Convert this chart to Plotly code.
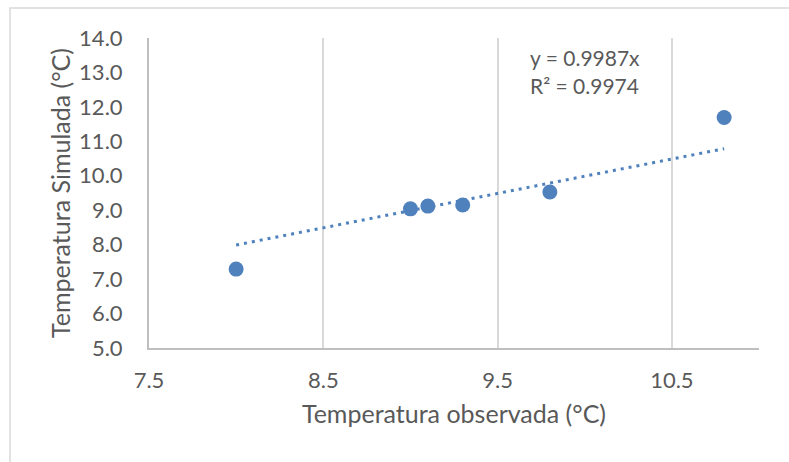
import plotly.graph_objects as go

# Data
obs = [8.0, 9.0, 9.1, 9.3, 9.8, 10.8]
sim = [7.29, 9.04, 9.12, 9.15, 9.53, 11.69]
slope = 0.9987
r2 = 0.9974
x_ticks = [7.5, 8.5, 9.5, 10.5]
y_ticks = [5, 6, 7, 8, 9, 10, 11, 12, 13, 14]

FONT = "Lato"
TXT = "#595959"
BLUE = "#4F81BD"

trend_x = [min(obs), max(obs)]
trend_y = [slope * v for v in trend_x]

fig = go.Figure()
fig.add_trace(go.Scatter(
    x=trend_x, y=trend_y, mode="lines",
    line=dict(color=BLUE, width=3, dash="3px,5px"),
    hoverinfo="skip", showlegend=False))
fig.add_trace(go.Scatter(
    x=obs, y=sim, mode="markers",
    marker=dict(color=BLUE, size=15, line=dict(width=0)),
    showlegend=False))

# plot area geometry in pixels (for border shape)
L, R, T, B = 149, 30, 38, 114
W, H = 789, 462
pw, ph = W - L - R, H - T - B

def px(xp):
    return (xp - L) / pw

def py(yp):
    return (H - B - yp) / ph

fig.add_shape(type="rect", xref="paper", yref="paper",
              x0=px(10), x1=px(W + 20), y0=py(H + 20), y1=py(8),
              line=dict(color="#D9D9D9", width=1.5), layer="below")

fig.add_annotation(x=px(528), y=py(57), xref="paper", yref="paper",
                   text=f"y = {slope}x", showarrow=False, xanchor="left", yanchor="middle",
                   font=dict(family=FONT, size=21, color=TXT))
fig.add_annotation(x=px(528), y=py(85), xref="paper", yref="paper",
                   text=f"R² = {r2}", showarrow=False, xanchor="left", yanchor="middle",
                   font=dict(family=FONT, size=21, color=TXT))

fig.update_layout(
    width=W, height=H,
    margin=dict(l=L, r=R, t=T, b=B),
    paper_bgcolor="white", plot_bgcolor="white",
    font=dict(family=FONT, color=TXT),
    xaxis=dict(
        range=[7.5, 11.0], tickmode="array", tickvals=x_ticks,
        ticktext=[f"{v:.1f}" for v in x_ticks],
        showgrid=True, gridcolor="#D9D9D9", gridwidth=2,
        showline=True, linecolor="#BFBFBF", linewidth=2,
        zeroline=False, ticks="", ticklabelstandoff=12,
        tickfont=dict(family=FONT, size=22, color=TXT),
        title=dict(text="Temperatura observada (°C)", standoff=13,
                   font=dict(family=FONT, size=25, color=TXT)),
    ),
    yaxis=dict(
        range=[5, 14], tickmode="array", tickvals=y_ticks,
        ticktext=[f"{v:.1f}" for v in y_ticks],
        showgrid=False, showline=True, linecolor="#BFBFBF", linewidth=2,
        zeroline=False, ticks="", ticklabelstandoff=20,
        tickfont=dict(family=FONT, size=22, color=TXT),
        title=dict(text="Temperatura Simulada (°C)", standoff=1,
                   font=dict(family=FONT, size=25, color=TXT)),
    ),
)

fig.write_html("out.html")
